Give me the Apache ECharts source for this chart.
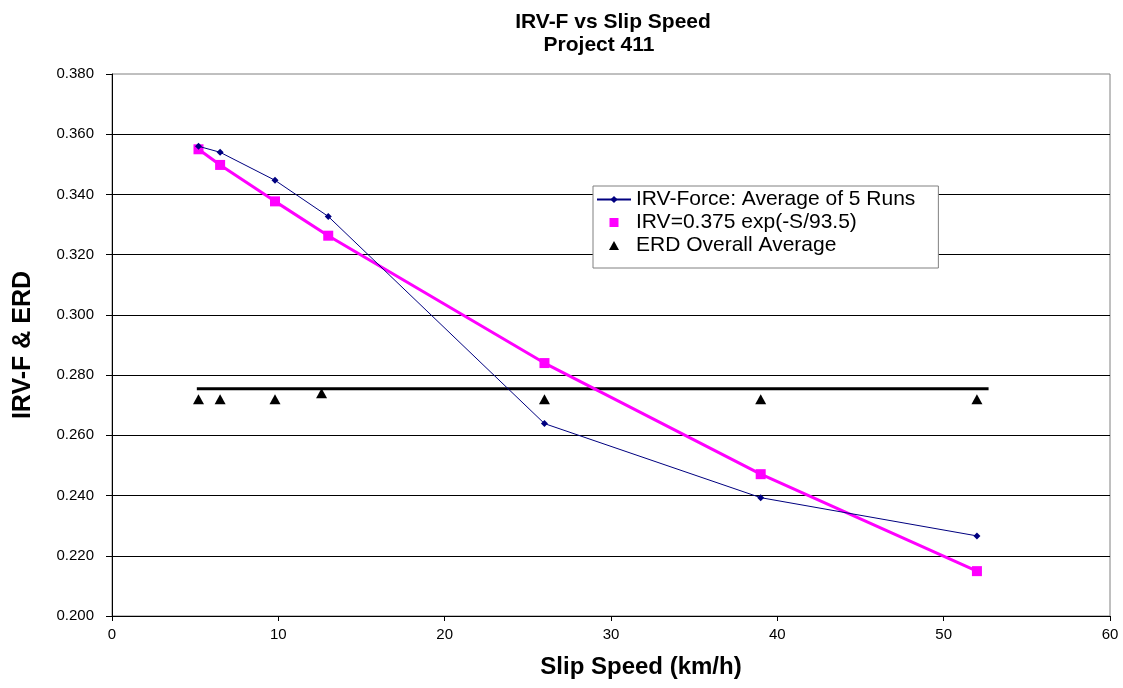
<!DOCTYPE html>
<html>
<head>
<meta charset="utf-8">
<title>IRV-F vs Slip Speed</title>
<script src="https://cdn.jsdelivr.net/npm/echarts@6/dist/echarts.min.js"></script>
<style>
  html, body { margin: 0; padding: 0; background: #ffffff; }
  #chart { width: 1123px; height: 688px; }
</style>
</head>
<body>
<div id="chart"></div>
<script>
// Slip speeds (km/h) at which the runs were made
const slipSpeed = [5.2, 6.5, 9.8, 13.0, 26.0, 39.0, 52.0];
// IRV-Force, average of 5 runs
const irvForce = [0.356, 0.354, 0.3447, 0.3327, 0.2639, 0.2393, 0.2266];
// Fitted curve IRV = 0.375 exp(-S/93.5), evaluated at the slip speeds
const irvFit = [0.355, 0.3498, 0.3377, 0.3263, 0.2840, 0.2471, 0.2149];
// ERD values at each speed
const erdSpeed = [5.2, 6.5, 9.8, 12.6, 26.0, 39.0, 52.0];
const erdValues = [0.272, 0.272, 0.272, 0.274, 0.272, 0.272, 0.272];
// Overall ERD average drawn as a horizontal bar across the speed range
const erdAverage = 0.2755;
const erdAverageSpan = [5.1, 52.7];

const seriesNames = ['IRV-Force: Average of 5 Runs', 'IRV=0.375 exp(-S/93.5)', 'ERD Overall Average'];

const FONT = '"Liberation Sans", Arial, sans-serif';

const chart = echarts.init(document.getElementById('chart'), null, { renderer: 'canvas' });

chart.setOption({
  backgroundColor: '#ffffff',
  animation: false,
  title: [
    {
      text: 'IRV-F vs Slip Speed',
      left: 608, top: 7, textAlign: 'center',
      textStyle: { fontFamily: FONT, fontWeight: 'bold', fontSize: 21, color: '#000' }
    },
    {
      text: 'Project 411',
      left: 594, top: 30, textAlign: 'center',
      textStyle: { fontFamily: FONT, fontWeight: 'bold', fontSize: 21, color: '#000' }
    }
  ],
  legend: {
    orient: 'vertical',
    left: 593, top: 186,
    padding: [3, 23, 12, 3],
    itemGap: 2,
    itemWidth: 34,
    itemHeight: 9,
    backgroundColor: '#ffffff',
    borderColor: '#808080',
    borderWidth: 1,
    textStyle: { fontFamily: FONT, fontSize: 21, color: '#000' },
    data: [
      { name: seriesNames[0] },
      { name: seriesNames[1], icon: 'path://M0,0h10v10h-10z' },
      { name: seriesNames[2], icon: 'path://M5,0L10,9L0,9Z' }
    ]
  },
  grid: {
    left: 112, right: 13, top: 74, bottom: 72,
    show: true,
    borderColor: '#808080',
    borderWidth: 1,
    backgroundColor: '#ffffff'
  },
  xAxis: {
    type: 'value',
    min: 0, max: 60, interval: 10,
    name: 'Slip Speed (km/h)',
    nameLocation: 'middle',
    nameGap: 39,
    nameTextStyle: {
      fontFamily: FONT, fontWeight: 'bold', fontSize: 24, color: '#000',
      padding: [0, 0, 0, 60]
    },
    axisLine: { show: true, onZero: false, lineStyle: { color: '#000', width: 1 } },
    axisTick: { show: true, inside: false, length: 5, lineStyle: { color: '#000' } },
    axisLabel: { margin: 11, fontFamily: FONT, fontSize: 15, color: '#000' },
    splitLine: { show: false }
  },
  yAxis: {
    type: 'value',
    min: 0.2, max: 0.38, interval: 0.02,
    name: 'IRV-F & ERD',
    nameLocation: 'middle',
    nameGap: 76,
    nameTextStyle: { fontFamily: FONT, fontWeight: 'bold', fontSize: 25, color: '#000' },
    axisLine: { show: true, onZero: false, lineStyle: { color: '#000', width: 1 } },
    axisTick: { show: true, inside: false, length: 6, lineStyle: { color: '#000' } },
    axisLabel: {
      margin: 18, fontFamily: FONT, fontSize: 15, color: '#000',
      formatter: v => v.toFixed(3)
    },
    splitLine: { show: true, showMinLine: false, showMaxLine: false, lineStyle: { color: '#000', width: 1 } }
  },
  series: [
    {
      name: seriesNames[0],
      type: 'line',
      data: slipSpeed.map((s, i) => [s, irvForce[i]]),
      symbol: 'diamond',
      symbolSize: 7,
      lineStyle: { color: '#000080', width: 1 },
      itemStyle: { color: '#000080' },
      z: 4
    },
    {
      name: seriesNames[1],
      type: 'line',
      data: slipSpeed.map((s, i) => [s, irvFit[i]]),
      symbol: 'rect',
      symbolSize: 10,
      lineStyle: { color: '#ff00ff', width: 3 },
      itemStyle: { color: '#ff00ff' },
      z: 3
    },
    {
      name: seriesNames[2],
      type: 'scatter',
      data: erdSpeed.map((s, i) => [s, erdValues[i]]),
      symbol: 'triangle',
      symbolSize: [11, 10],
      itemStyle: { color: '#000', opacity: 1 },
      z: 2
    },
    {
      name: 'ERD average line',
      type: 'line',
      data: erdAverageSpan.map(s => [s, erdAverage]),
      symbol: 'none',
      lineStyle: { color: '#000', width: 3 },
      z: 2
    }
  ]
});
</script>
</body>
</html>
